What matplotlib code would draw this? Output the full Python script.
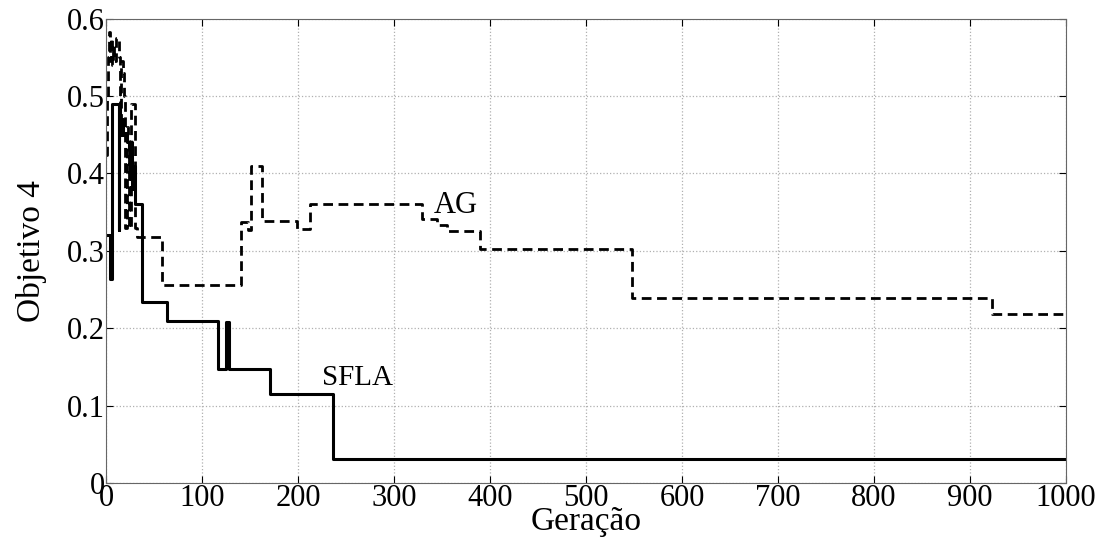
import matplotlib.pyplot as plt

# Data: change points (generation, value), drawn as steps
ag_gen = [0, 1, 2, 3, 4, 5, 6, 7, 8, 10, 13, 15, 16, 18, 19, 20, 22, 23, 24, 26,
          29, 30, 32, 58, 141, 148, 151, 162, 199, 213, 329, 345, 355, 390,
          548, 923, 1000]
ag_val = [0.424, 0.50, 0.55, 0.583, 0.545, 0.575, 0.54, 0.565, 0.545, 0.575,
          0.55, 0.46, 0.545, 0.53, 0.50, 0.33, 0.46, 0.45, 0.33, 0.49,
          0.49, 0.33, 0.318, 0.2557, 0.3375, 0.3267, 0.4095, 0.3388, 0.3277,
          0.36, 0.3405, 0.3332, 0.3258, 0.3018, 0.2385, 0.2178, 0.2178]

sfla_gen = [0, 4, 6, 12, 13, 14, 15, 17, 18, 20, 22, 24, 25, 26, 27, 28, 30,
            37, 64, 117, 125, 128, 171, 236, 1000]
sfla_val = [0.32, 0.263, 0.49, 0.49, 0.327, 0.49, 0.45, 0.47, 0.45, 0.452,
            0.44, 0.43, 0.40, 0.44, 0.38, 0.41, 0.361, 0.234, 0.2096, 0.1468,
            0.208, 0.1468, 0.1149, 0.031, 0.031]

x_ticks = list(range(0, 1001, 100))
y_ticks = [0, 0.1, 0.2, 0.3, 0.4, 0.5, 0.6]
y_labels = ['0', '0.1', '0.2', '0.3', '0.4', '0.5', '0.6']

plt.rcParams['font.family'] = ['Liberation Serif', 'DejaVu Serif']

fig = plt.figure(figsize=(11.01, 5.38), dpi=100)
ax = fig.add_axes([0.0963, 0.1022, 0.8719, 0.8634])

ax.plot(ag_gen, ag_val, drawstyle='steps-post', color='black',
        linestyle=(0, (3.5, 2)), linewidth=2.0)
ax.plot(sfla_gen, sfla_val, drawstyle='steps-post', color='black',
        linestyle='-', linewidth=2.2)

ax.text(364, 0.358, 'AG', fontsize=22, ha='center', va='center')
ax.text(262, 0.136, 'SFLA', fontsize=21, ha='center', va='center')

# Format
ax.set_xlim(0, 1000)
ax.set_ylim(0, 0.6)
ax.set_xticks(x_ticks)
ax.set_yticks(y_ticks)
ax.set_yticklabels(y_labels)
ax.tick_params(direction='in', labelsize=22, length=5, width=0.8,
               top=True, right=True, pad=1)
ax.grid(True, linestyle=':', color='#b0b0b0', linewidth=0.9)
for s in ax.spines.values():
    s.set_color('#666666')
    s.set_linewidth(0.8)

ax.set_xlabel('Geração', fontsize=24, labelpad=-5)
ax.set_ylabel('Objetivo 4', fontsize=24, labelpad=14)

fig.savefig('out.png', dpi=100)
